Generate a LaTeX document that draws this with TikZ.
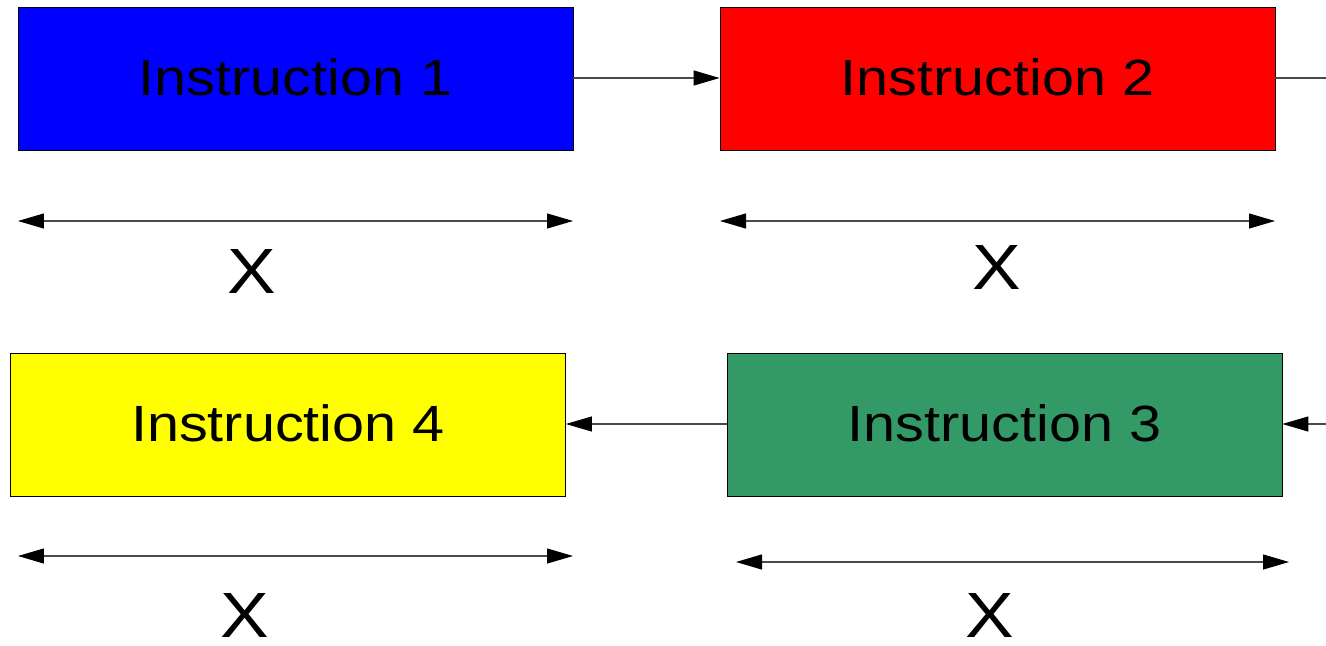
\documentclass[tikz,border=0pt]{standalone}
\usepackage{fontspec}
\setmainfont{Liberation Sans}
\usetikzlibrary{arrows.meta}
\definecolor{boxgreen}{HTML}{339966}
\definecolor{linegray}{HTML}{4A4A4A}
\newcommand\widetext[1]{\raisebox{0.07cm}{\scalebox{1.13}[1]{#1}}}
\newcommand\widex[1]{\scalebox{1.14}[1]{#1}}
\tikzset{
  instr/.style={draw=black, line width=0.5pt, minimum width=11.1cm, minimum height=2.86cm, inner sep=0pt, font=\fontsize{29}{34}\selectfont},
  conn/.style={draw=linegray, line width=0.6pt, -{Triangle[length=0.52cm,width=0.3cm,color=black,fill=black]}},
  dimarrow/.style={draw=linegray, line width=0.6pt, {Triangle[length=0.52cm,width=0.3cm,color=black,fill=black]}-{Triangle[length=0.52cm,width=0.3cm,color=black,fill=black]}},
  xlabel/.style={font=\fontsize{36.4}{42}\selectfont, inner sep=0pt}
}
\begin{document}
\begin{tikzpicture}[x=0.02cm,y=-0.02cm]
\useasboundingbox (0,0) rectangle (1326,646);
\path[clip] (0,0) rectangle (1326,646);
% boxes
\node[instr, fill={rgb,255:red,0;green,0;blue,255}] (i1) at (295.5,78.5) {\widetext{Instruction 1}};
\node[instr, fill={rgb,255:red,255;green,0;blue,0}] (i2) at (997.5,78.5) {\widetext{Instruction 2}};
\node[instr, fill=boxgreen] (i3) at (1004.5,424.5) {\widetext{Instruction 3}};
\node[instr, fill={rgb,255:red,255;green,255;blue,0}] (i4) at (288,424.5) {\widetext{Instruction 4}};
% off-page ends
\coordinate (e2) at (1330,78);
\coordinate (e3) at (1330,424);
% connectors
\draw[conn] (i1.east |- 0,78) -- (i2.west |- 0,78);
\draw[draw=linegray, line width=0.6pt] (i2.east |- 0,78) -- (e2);
\draw[conn] (e3) -- (i3.east |- 0,424);
\draw[conn] (i3.west |- 0,424) -- (i4.east |- 0,424);
% dimension arrows
\coordinate (d1a) at (18,221);  \coordinate (d1b) at (573,221);
\coordinate (d2a) at (720,221); \coordinate (d2b) at (1275,221);
\coordinate (d4a) at (18,556);  \coordinate (d4b) at (573,556);
\coordinate (d3a) at (736,562); \coordinate (d3b) at (1289,562);
\draw[dimarrow] (d1a) -- (d1b);
\draw[dimarrow] (d2a) -- (d2b);
\draw[dimarrow] (d4a) -- (d4b);
\draw[dimarrow] (d3a) -- (d3b);
% labels
\node[xlabel] (x1) at (251.5,271) {\widex{X}};
\node[xlabel] (x2) at (997,267) {\widex{X}};
\node[xlabel] (x4) at (245,615) {\widex{X}};
\node[xlabel] (x3) at (990,615) {\widex{X}};
\end{tikzpicture}
\end{document}
